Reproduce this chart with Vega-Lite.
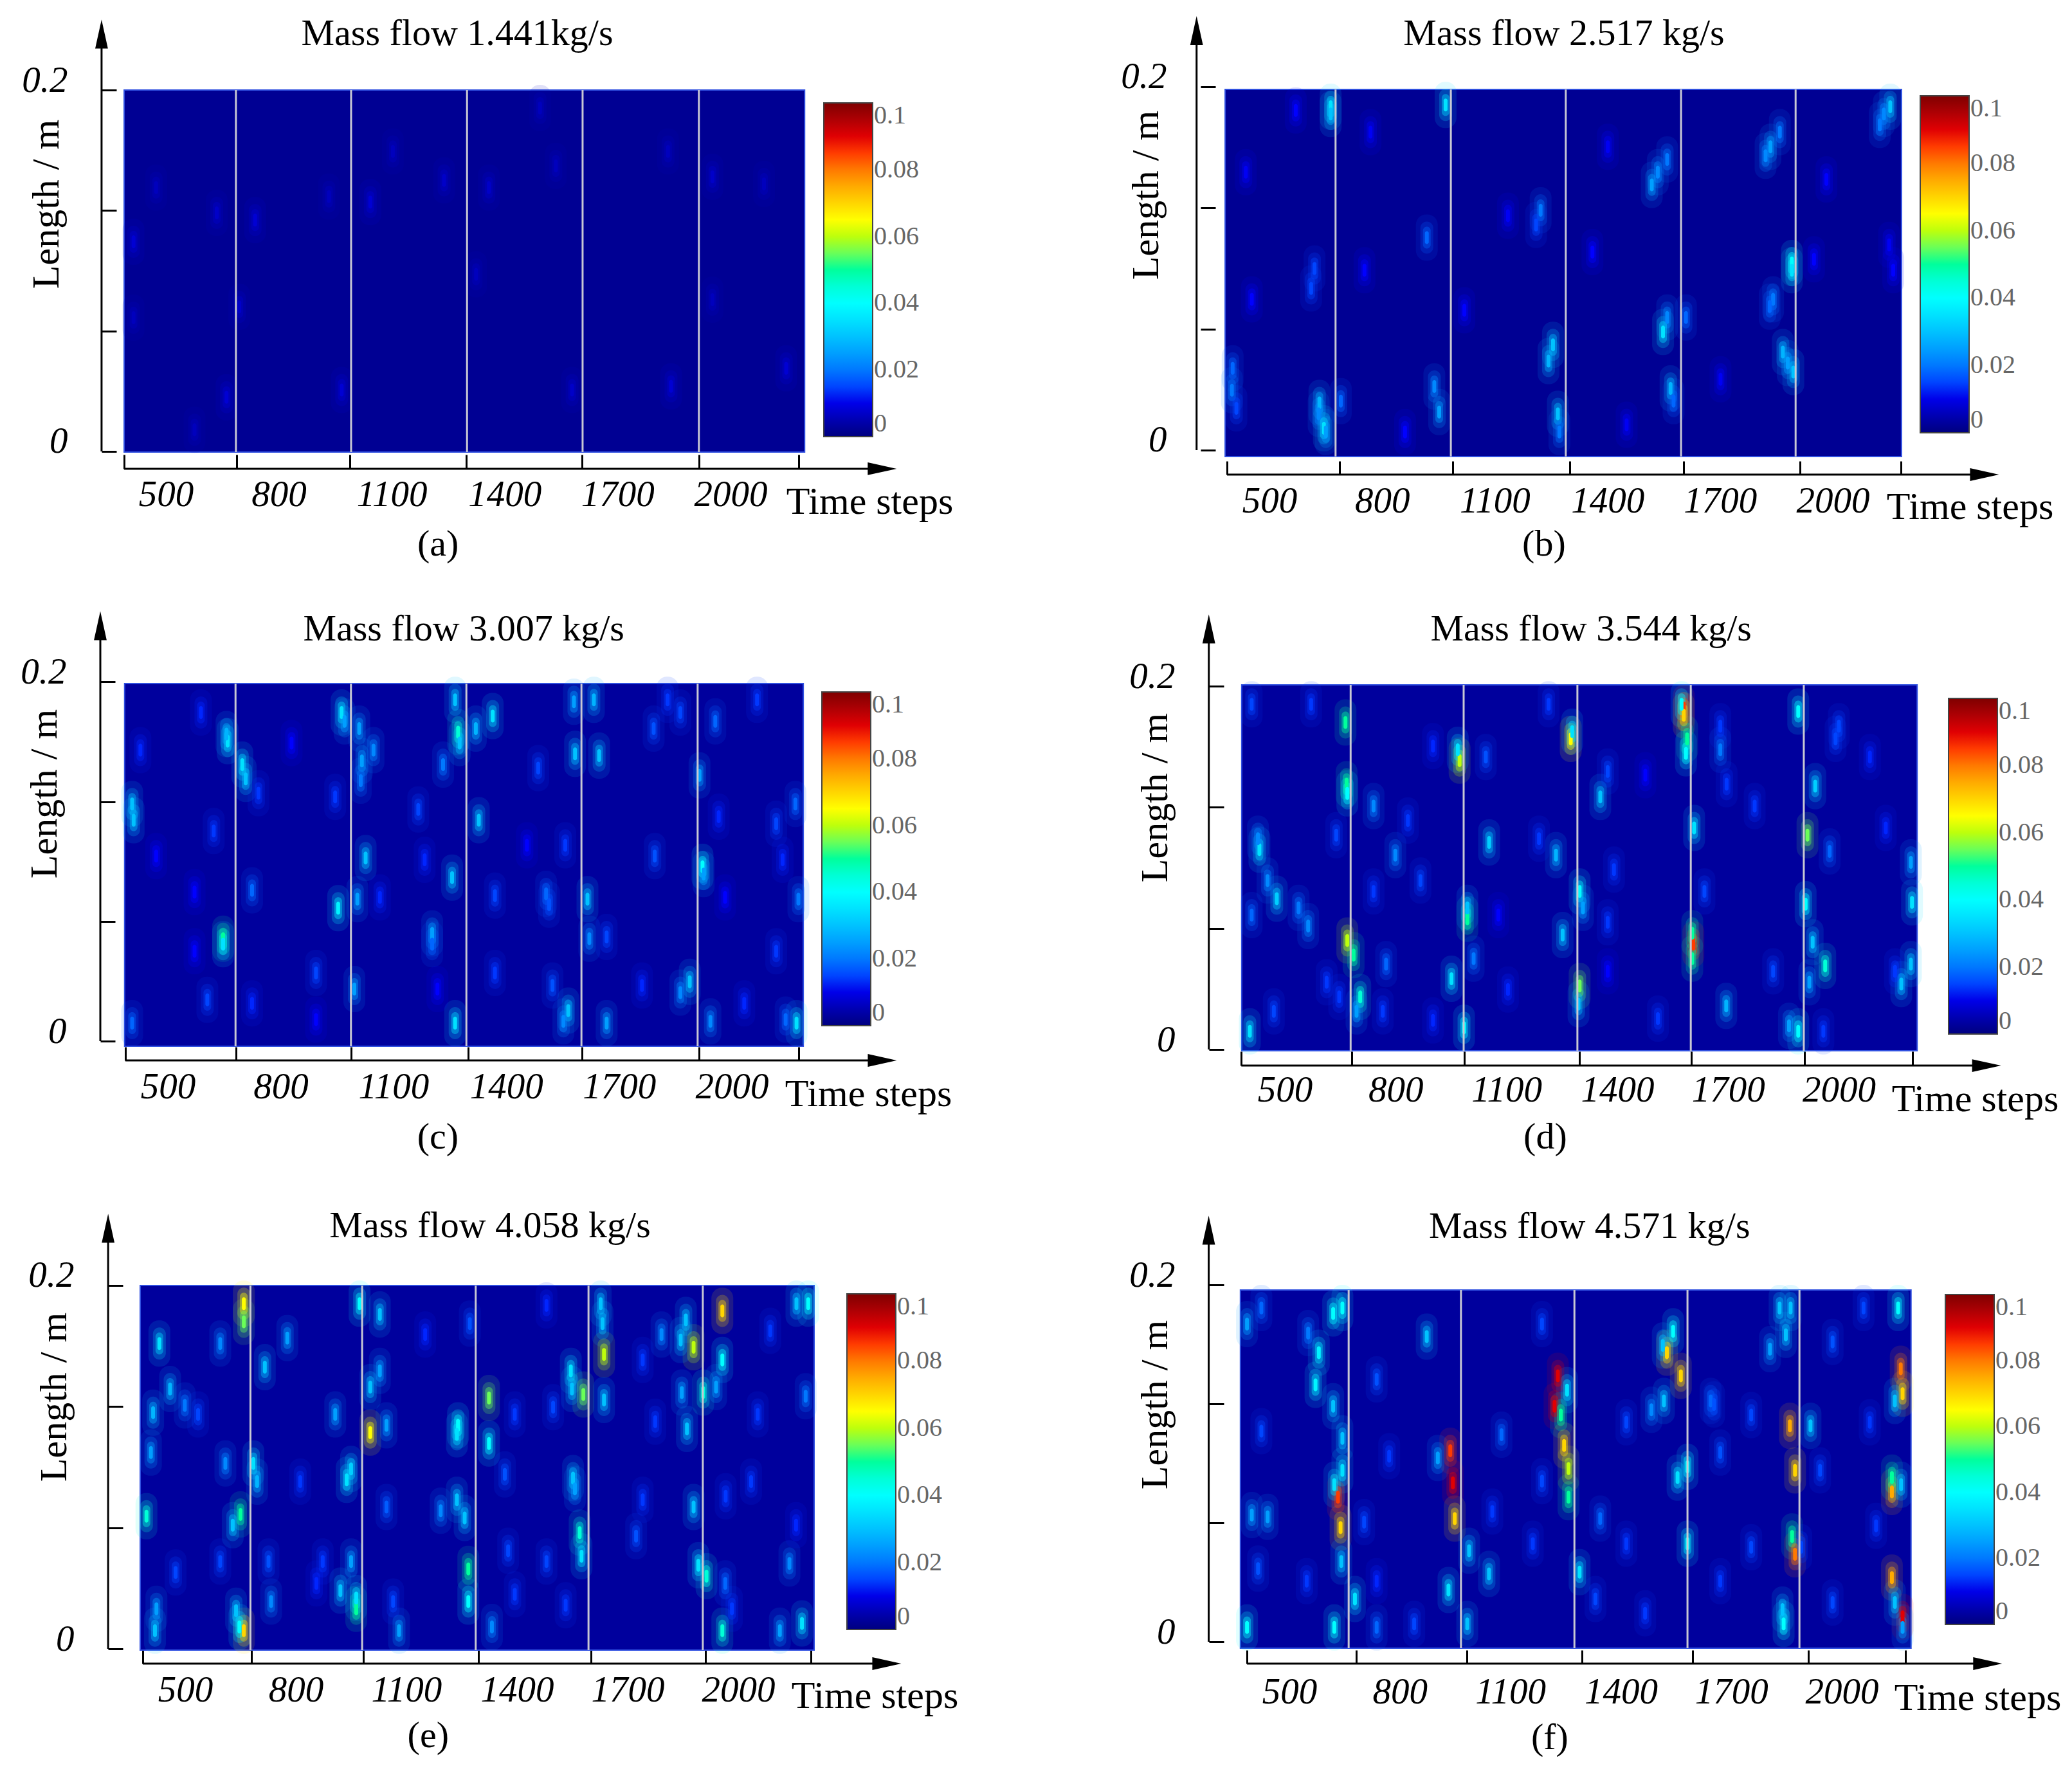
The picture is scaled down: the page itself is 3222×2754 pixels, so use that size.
{"$schema":"https://vega.github.io/schema/vega-lite/v6.json","background":"white","padding":{"left":31,"top":21,"right":0,"bottom":0},"bounds":"flush","spacing":933,"config":{"font":"Liberation Serif","view":{"stroke":null},"range":{"heatmap":["#00007f","#0000ff","#00ffff","#00ff80","#a0ff20","#ffff00","#ff0000","#7f0000"],"ramp":["#00007f","#0000ff","#00ffff","#00ff80","#a0ff20","#ffff00","#ff0000","#7f0000"]},"axis":{"labelFont":"Liberation Serif","titleFont":"Liberation Serif","labelFontStyle":"italic","titleFontWeight":"normal","labelFontSize":57,"titleFontSize":60,"domain":false,"grid":false,"tickColor":"#000","tickWidth":3,"labelColor":"#000","titleColor":"#000","labelOverlap":false,"labelFlush":false,"labelAngle":0},"legend":{"gradientThickness":76,"labelFont":"Liberation Serif","labelFontSize":40,"labelColor":"#666","gradientStrokeColor":"#444","gradientStrokeWidth":2,"labelOverlap":false,"labelBaseline":"middle","labelOffset":22}},
"datasets":{
"a":[{"t":414,"l":0.116,"v":0.008},{"t":737,"l":0.128,"v":0.008},{"t":1043,"l":0.138,"v":0.008},{"t":1239,"l":0.15,"v":0.007},{"t":1952,"l":0.152,"v":0.007},{"t":661,"l":0.03,"v":0.008},{"t":967,"l":0.034,"v":0.008},{"t":2148,"l":0.046,"v":0.008},{"t":1842,"l":0.036,"v":0.008},{"t":1579,"l":0.034,"v":0.007},{"t":474,"l":0.146,"v":0.006},{"t":1358,"l":0.146,"v":0.007},{"t":635,"l":0.132,"v":0.007},{"t":933,"l":0.141,"v":0.006},{"t":1494,"l":0.19,"v":0.006},{"t":1834,"l":0.166,"v":0.006},{"t":1536,"l":0.158,"v":0.006},{"t":2089,"l":0.148,"v":0.006},{"t":1103,"l":0.166,"v":0.006},{"t":695,"l":0.08,"v":0.007},{"t":1952,"l":0.084,"v":0.006},{"t":414,"l":0.074,"v":0.006},{"t":1324,"l":0.098,"v":0.006},{"t":576,"l":0.012,"v":0.006}],
"b":[{"t":663,"l":0.189,"v":0.035},{"t":663,"l":0.185,"v":0.03},{"t":969,"l":0.19,"v":0.035},{"t":2153,"l":0.189,"v":0.03},{"t":2136,"l":0.185,"v":0.022},{"t":2125,"l":0.179,"v":0.02},{"t":1859,"l":0.175,"v":0.02},{"t":1834,"l":0.167,"v":0.025},{"t":1821,"l":0.162,"v":0.022},{"t":1559,"l":0.16,"v":0.02},{"t":1534,"l":0.153,"v":0.022},{"t":1518,"l":0.146,"v":0.025},{"t":1222,"l":0.132,"v":0.02},{"t":1210,"l":0.124,"v":0.015},{"t":919,"l":0.117,"v":0.018},{"t":1891,"l":0.103,"v":0.04},{"t":1891,"l":0.099,"v":0.035},{"t":620,"l":0.1,"v":0.015},{"t":611,"l":0.089,"v":0.015},{"t":453,"l":0.083,"v":0.012},{"t":1841,"l":0.083,"v":0.02},{"t":1609,"l":0.073,"v":0.018},{"t":1559,"l":0.073,"v":0.022},{"t":1548,"l":0.065,"v":0.035},{"t":1832,"l":0.079,"v":0.018},{"t":1255,"l":0.058,"v":0.03},{"t":1243,"l":0.049,"v":0.028},{"t":1867,"l":0.054,"v":0.028},{"t":1880,"l":0.048,"v":0.025},{"t":1895,"l":0.043,"v":0.03},{"t":939,"l":0.035,"v":0.022},{"t":952,"l":0.021,"v":0.025},{"t":1568,"l":0.034,"v":0.028},{"t":1576,"l":0.027,"v":0.018},{"t":1268,"l":0.02,"v":0.03},{"t":1272,"l":0.01,"v":0.02},{"t":633,"l":0.026,"v":0.028},{"t":631,"l":0.02,"v":0.022},{"t":645,"l":0.012,"v":0.035},{"t":650,"l":0.01,"v":0.025},{"t":400,"l":0.033,"v":0.02},{"t":412,"l":0.023,"v":0.015},{"t":690,"l":0.027,"v":0.018},{"t":402,"l":0.045,"v":0.018},{"t":753,"l":0.099,"v":0.012},{"t":1360,"l":0.109,"v":0.012},{"t":2161,"l":0.099,"v":0.012},{"t":1950,"l":0.105,"v":0.012},{"t":570,"l":0.187,"v":0.012},{"t":769,"l":0.175,"v":0.011},{"t":1401,"l":0.167,"v":0.011},{"t":1135,"l":0.129,"v":0.011},{"t":1983,"l":0.149,"v":0.012},{"t":2150,"l":0.113,"v":0.011},{"t":437,"l":0.153,"v":0.011},{"t":1019,"l":0.077,"v":0.012},{"t":861,"l":0.01,"v":0.012},{"t":1451,"l":0.014,"v":0.011},{"t":1701,"l":0.039,"v":0.011}],
"c":[{"t":659,"l":0.167,"v":0.035},{"t":656,"l":0.171,"v":0.028},{"t":647,"l":0.057,"v":0.05},{"t":647,"l":0.054,"v":0.035},{"t":698,"l":0.154,"v":0.035},{"t":707,"l":0.146,"v":0.03},{"t":405,"l":0.132,"v":0.03},{"t":409,"l":0.123,"v":0.03},{"t":962,"l":0.183,"v":0.035},{"t":970,"l":0.178,"v":0.025},{"t":1009,"l":0.174,"v":0.025},{"t":1016,"l":0.156,"v":0.025},{"t":1013,"l":0.145,"v":0.02},{"t":1264,"l":0.19,"v":0.03},{"t":1272,"l":0.172,"v":0.045},{"t":1276,"l":0.166,"v":0.03},{"t":1319,"l":0.174,"v":0.028},{"t":1364,"l":0.181,"v":0.035},{"t":1327,"l":0.123,"v":0.03},{"t":1026,"l":0.102,"v":0.03},{"t":1256,"l":0.091,"v":0.03},{"t":953,"l":0.074,"v":0.038},{"t":1004,"l":0.079,"v":0.025},{"t":1203,"l":0.06,"v":0.025},{"t":1203,"l":0.054,"v":0.018},{"t":1506,"l":0.082,"v":0.018},{"t":1514,"l":0.076,"v":0.016},{"t":1370,"l":0.081,"v":0.015},{"t":1580,"l":0.189,"v":0.025},{"t":1583,"l":0.16,"v":0.03},{"t":1647,"l":0.159,"v":0.03},{"t":1633,"l":0.19,"v":0.028},{"t":1792,"l":0.174,"v":0.016},{"t":1485,"l":0.152,"v":0.015},{"t":1616,"l":0.079,"v":0.03},{"t":1621,"l":0.057,"v":0.022},{"t":1667,"l":0.058,"v":0.015},{"t":1922,"l":0.097,"v":0.04},{"t":1925,"l":0.093,"v":0.025},{"t":1888,"l":0.033,"v":0.03},{"t":1863,"l":0.027,"v":0.022},{"t":1565,"l":0.017,"v":0.03},{"t":1552,"l":0.011,"v":0.022},{"t":1264,"l":0.01,"v":0.035},{"t":2172,"l":0.01,"v":0.035},{"t":1667,"l":0.01,"v":0.025},{"t":1943,"l":0.011,"v":0.022},{"t":2143,"l":0.012,"v":0.018},{"t":996,"l":0.029,"v":0.025},{"t":894,"l":0.038,"v":0.015},{"t":605,"l":0.023,"v":0.015},{"t":1217,"l":0.029,"v":0.012},{"t":724,"l":0.084,"v":0.018},{"t":2177,"l":0.079,"v":0.02},{"t":1956,"l":0.178,"v":0.018},{"t":1914,"l":0.148,"v":0.025},{"t":2169,"l":0.132,"v":0.018},{"t":1232,"l":0.154,"v":0.02},{"t":1047,"l":0.162,"v":0.022},{"t":405,"l":0.01,"v":0.018},{"t":588,"l":0.183,"v":0.013},{"t":622,"l":0.117,"v":0.014},{"t":571,"l":0.083,"v":0.012},{"t":741,"l":0.138,"v":0.014},{"t":724,"l":0.021,"v":0.013},{"t":894,"l":0.012,"v":0.012},{"t":1166,"l":0.129,"v":0.015},{"t":1183,"l":0.101,"v":0.013},{"t":1370,"l":0.038,"v":0.014},{"t":1455,"l":0.109,"v":0.012},{"t":1557,"l":0.109,"v":0.014},{"t":1795,"l":0.103,"v":0.016},{"t":2118,"l":0.121,"v":0.015},{"t":2135,"l":0.101,"v":0.013},{"t":1965,"l":0.125,"v":0.013},{"t":2067,"l":0.19,"v":0.014},{"t":1982,"l":0.08,"v":0.012},{"t":1064,"l":0.08,"v":0.013},{"t":945,"l":0.136,"v":0.014},{"t":829,"l":0.166,"v":0.012},{"t":427,"l":0.162,"v":0.013},{"t":571,"l":0.05,"v":0.012},{"t":469,"l":0.103,"v":0.012},{"t":1761,"l":0.031,"v":0.013},{"t":2033,"l":0.021,"v":0.013},{"t":2118,"l":0.05,"v":0.014},{"t":1523,"l":0.031,"v":0.016},{"t":1829,"l":0.19,"v":0.014},{"t":1863,"l":0.183,"v":0.015}],
"d":[{"t":1580,"l":0.188,"v":0.085},{"t":1580,"l":0.184,"v":0.07},{"t":1574,"l":0.19,"v":0.04},{"t":1589,"l":0.171,"v":0.05},{"t":1586,"l":0.163,"v":0.04},{"t":1274,"l":0.171,"v":0.065},{"t":1278,"l":0.175,"v":0.035},{"t":664,"l":0.18,"v":0.05},{"t":667,"l":0.146,"v":0.05},{"t":669,"l":0.141,"v":0.04},{"t":973,"l":0.159,"v":0.06},{"t":968,"l":0.165,"v":0.035},{"t":431,"l":0.11,"v":0.035},{"t":427,"l":0.116,"v":0.022},{"t":478,"l":0.083,"v":0.032},{"t":453,"l":0.093,"v":0.022},{"t":537,"l":0.078,"v":0.02},{"t":563,"l":0.068,"v":0.022},{"t":669,"l":0.06,"v":0.06},{"t":686,"l":0.052,"v":0.05},{"t":704,"l":0.029,"v":0.045},{"t":694,"l":0.021,"v":0.025},{"t":405,"l":0.01,"v":0.035},{"t":1053,"l":0.114,"v":0.032},{"t":1234,"l":0.107,"v":0.028},{"t":1354,"l":0.139,"v":0.03},{"t":740,"l":0.134,"v":0.022},{"t":799,"l":0.107,"v":0.022},{"t":994,"l":0.072,"v":0.05},{"t":994,"l":0.078,"v":0.03},{"t":1252,"l":0.063,"v":0.03},{"t":951,"l":0.039,"v":0.035},{"t":774,"l":0.047,"v":0.018},{"t":1011,"l":0.05,"v":0.02},{"t":1298,"l":0.087,"v":0.04},{"t":1298,"l":0.035,"v":0.055},{"t":1295,"l":0.025,"v":0.03},{"t":1307,"l":0.078,"v":0.025},{"t":1606,"l":0.058,"v":0.085},{"t":1603,"l":0.064,"v":0.05},{"t":1603,"l":0.05,"v":0.05},{"t":1608,"l":0.122,"v":0.035},{"t":1695,"l":0.024,"v":0.028},{"t":1679,"l":0.165,"v":0.02},{"t":1915,"l":0.118,"v":0.055},{"t":1890,"l":0.186,"v":0.04},{"t":1910,"l":0.08,"v":0.04},{"t":1936,"l":0.145,"v":0.032},{"t":1963,"l":0.046,"v":0.045},{"t":1929,"l":0.059,"v":0.03},{"t":1920,"l":0.037,"v":0.025},{"t":2169,"l":0.036,"v":0.03},{"t":2198,"l":0.081,"v":0.035},{"t":2195,"l":0.047,"v":0.03},{"t":2195,"l":0.103,"v":0.025},{"t":1865,"l":0.013,"v":0.025},{"t":1890,"l":0.01,"v":0.04},{"t":985,"l":0.012,"v":0.04},{"t":1975,"l":0.109,"v":0.018},{"t":2000,"l":0.178,"v":0.015},{"t":867,"l":0.093,"v":0.015},{"t":1476,"l":0.151,"v":0.012},{"t":410,"l":0.19,"v":0.015},{"t":571,"l":0.19,"v":0.014},{"t":1044,"l":0.161,"v":0.016},{"t":901,"l":0.167,"v":0.013},{"t":1214,"l":0.19,"v":0.014},{"t":1374,"l":0.153,"v":0.015},{"t":1679,"l":0.178,"v":0.014},{"t":1991,"l":0.171,"v":0.015},{"t":2084,"l":0.161,"v":0.013},{"t":740,"l":0.087,"v":0.014},{"t":1078,"l":0.074,"v":0.012},{"t":1374,"l":0.07,"v":0.014},{"t":1636,"l":0.087,"v":0.015},{"t":1772,"l":0.134,"v":0.014},{"t":1696,"l":0.146,"v":0.014},{"t":2127,"l":0.122,"v":0.013},{"t":765,"l":0.021,"v":0.014},{"t":901,"l":0.016,"v":0.013},{"t":1510,"l":0.017,"v":0.014},{"t":1374,"l":0.043,"v":0.012},{"t":1104,"l":0.033,"v":0.013},{"t":1822,"l":0.043,"v":0.015},{"t":2152,"l":0.043,"v":0.014},{"t":1958,"l":0.01,"v":0.014},{"t":470,"l":0.021,"v":0.015},{"t":613,"l":0.037,"v":0.014},{"t":647,"l":0.029,"v":0.014},{"t":410,"l":0.074,"v":0.018},{"t":639,"l":0.118,"v":0.015},{"t":1391,"l":0.099,"v":0.014},{"t":833,"l":0.126,"v":0.014},{"t":1188,"l":0.116,"v":0.014}],
"e":[{"t":659,"l":0.19,"v":0.065},{"t":659,"l":0.18,"v":0.055},{"t":659,"l":0.01,"v":0.07},{"t":647,"l":0.012,"v":0.04},{"t":638,"l":0.021,"v":0.03},{"t":650,"l":0.074,"v":0.05},{"t":629,"l":0.068,"v":0.03},{"t":430,"l":0.168,"v":0.035},{"t":595,"l":0.168,"v":0.022},{"t":459,"l":0.143,"v":0.028},{"t":499,"l":0.134,"v":0.02},{"t":413,"l":0.13,"v":0.028},{"t":407,"l":0.108,"v":0.025},{"t":609,"l":0.102,"v":0.022},{"t":395,"l":0.073,"v":0.045},{"t":418,"l":0.01,"v":0.03},{"t":422,"l":0.022,"v":0.025},{"t":685,"l":0.102,"v":0.035},{"t":695,"l":0.092,"v":0.028},{"t":777,"l":0.171,"v":0.025},{"t":716,"l":0.155,"v":0.03},{"t":733,"l":0.026,"v":0.022},{"t":973,"l":0.19,"v":0.04},{"t":1028,"l":0.184,"v":0.03},{"t":1002,"l":0.119,"v":0.065},{"t":1002,"l":0.144,"v":0.03},{"t":1028,"l":0.153,"v":0.025},{"t":1046,"l":0.123,"v":0.025},{"t":938,"l":0.093,"v":0.035},{"t":950,"l":0.099,"v":0.032},{"t":907,"l":0.129,"v":0.025},{"t":950,"l":0.048,"v":0.025},{"t":964,"l":0.022,"v":0.05},{"t":964,"l":0.028,"v":0.035},{"t":921,"l":0.032,"v":0.03},{"t":1240,"l":0.123,"v":0.04},{"t":1237,"l":0.118,"v":0.035},{"t":1268,"l":0.044,"v":0.05},{"t":1268,"l":0.026,"v":0.04},{"t":1258,"l":0.072,"v":0.03},{"t":1237,"l":0.082,"v":0.03},{"t":1193,"l":0.076,"v":0.022},{"t":1324,"l":0.138,"v":0.055},{"t":1324,"l":0.113,"v":0.04},{"t":1332,"l":0.012,"v":0.022},{"t":1546,"l":0.153,"v":0.035},{"t":1549,"l":0.143,"v":0.03},{"t":1580,"l":0.14,"v":0.055},{"t":1552,"l":0.094,"v":0.03},{"t":1557,"l":0.088,"v":0.025},{"t":1570,"l":0.064,"v":0.045},{"t":1575,"l":0.051,"v":0.035},{"t":1636,"l":0.162,"v":0.06},{"t":1632,"l":0.179,"v":0.03},{"t":1627,"l":0.19,"v":0.03},{"t":1636,"l":0.137,"v":0.03},{"t":1879,"l":0.166,"v":0.06},{"t":1844,"l":0.17,"v":0.03},{"t":1858,"l":0.181,"v":0.03},{"t":1792,"l":0.173,"v":0.022},{"t":1861,"l":0.121,"v":0.03},{"t":1847,"l":0.141,"v":0.025},{"t":1879,"l":0.078,"v":0.03},{"t":1957,"l":0.186,"v":0.07},{"t":1957,"l":0.159,"v":0.04},{"t":1940,"l":0.144,"v":0.025},{"t":1905,"l":0.141,"v":0.045},{"t":1914,"l":0.04,"v":0.045},{"t":1957,"l":0.01,"v":0.045},{"t":1892,"l":0.046,"v":0.035},{"t":1965,"l":0.036,"v":0.018},{"t":2173,"l":0.014,"v":0.035},{"t":2190,"l":0.19,"v":0.04},{"t":2158,"l":0.19,"v":0.03},{"t":2183,"l":0.139,"v":0.02},{"t":2139,"l":0.047,"v":0.022},{"t":2113,"l":0.01,"v":0.025},{"t":1080,"l":0.01,"v":0.025},{"t":726,"l":0.048,"v":0.016},{"t":474,"l":0.042,"v":0.015},{"t":1376,"l":0.054,"v":0.015},{"t":1394,"l":0.03,"v":0.014},{"t":1723,"l":0.062,"v":0.016},{"t":1498,"l":0.133,"v":0.015},{"t":873,"l":0.048,"v":0.014},{"t":812,"l":0.092,"v":0.014},{"t":1046,"l":0.078,"v":0.017},{"t":1367,"l":0.096,"v":0.016},{"t":1480,"l":0.048,"v":0.015},{"t":1741,"l":0.082,"v":0.014},{"t":1966,"l":0.084,"v":0.014},{"t":2035,"l":0.092,"v":0.014},{"t":1775,"l":0.125,"v":0.014},{"t":2087,"l":0.175,"v":0.014},{"t":2053,"l":0.129,"v":0.014},{"t":1151,"l":0.173,"v":0.013},{"t":1394,"l":0.129,"v":0.014},{"t":1064,"l":0.026,"v":0.015},{"t":856,"l":0.036,"v":0.013},{"t":595,"l":0.048,"v":0.015},{"t":535,"l":0.129,"v":0.015},{"t":2157,"l":0.068,"v":0.013},{"t":1983,"l":0.022,"v":0.014},{"t":1532,"l":0.024,"v":0.014},{"t":1272,"l":0.179,"v":0.016},{"t":1480,"l":0.189,"v":0.013},{"t":1741,"l":0.159,"v":0.014}],
"f":[{"t":632,"l":0.081,"v":0.085},{"t":639,"l":0.064,"v":0.07},{"t":622,"l":0.088,"v":0.035},{"t":619,"l":0.184,"v":0.04},{"t":644,"l":0.187,"v":0.04},{"t":580,"l":0.162,"v":0.038},{"t":571,"l":0.144,"v":0.038},{"t":619,"l":0.132,"v":0.03},{"t":644,"l":0.114,"v":0.03},{"t":644,"l":0.096,"v":0.035},{"t":641,"l":0.045,"v":0.03},{"t":398,"l":0.071,"v":0.025},{"t":441,"l":0.07,"v":0.025},{"t":551,"l":0.173,"v":0.02},{"t":622,"l":0.008,"v":0.04},{"t":385,"l":0.008,"v":0.04},{"t":678,"l":0.024,"v":0.035},{"t":873,"l":0.171,"v":0.03},{"t":937,"l":0.107,"v":0.085},{"t":944,"l":0.089,"v":0.09},{"t":949,"l":0.069,"v":0.07},{"t":903,"l":0.103,"v":0.025},{"t":932,"l":0.029,"v":0.035},{"t":988,"l":0.051,"v":0.03},{"t":983,"l":0.01,"v":0.03},{"t":737,"l":0.008,"v":0.018},{"t":1042,"l":0.038,"v":0.03},{"t":1229,"l":0.149,"v":0.09},{"t":1220,"l":0.132,"v":0.09},{"t":1237,"l":0.127,"v":0.05},{"t":1254,"l":0.141,"v":0.035},{"t":1246,"l":0.11,"v":0.07},{"t":1258,"l":0.097,"v":0.06},{"t":1258,"l":0.081,"v":0.05},{"t":1288,"l":0.039,"v":0.035},{"t":1525,"l":0.162,"v":0.07},{"t":1542,"l":0.174,"v":0.04},{"t":1563,"l":0.149,"v":0.07},{"t":1514,"l":0.166,"v":0.03},{"t":1517,"l":0.135,"v":0.03},{"t":1483,"l":0.13,"v":0.022},{"t":1554,"l":0.092,"v":0.035},{"t":1581,"l":0.098,"v":0.04},{"t":1581,"l":0.055,"v":0.04},{"t":1344,"l":0.069,"v":0.018},{"t":1831,"l":0.187,"v":0.03},{"t":1861,"l":0.187,"v":0.03},{"t":1848,"l":0.172,"v":0.03},{"t":1805,"l":0.164,"v":0.025},{"t":1859,"l":0.121,"v":0.075},{"t":1873,"l":0.096,"v":0.07},{"t":1865,"l":0.059,"v":0.05},{"t":1873,"l":0.049,"v":0.08},{"t":1842,"l":0.01,"v":0.04},{"t":1839,"l":0.018,"v":0.03},{"t":1915,"l":0.121,"v":0.03},{"t":2160,"l":0.153,"v":0.08},{"t":2165,"l":0.139,"v":0.07},{"t":2144,"l":0.135,"v":0.03},{"t":2136,"l":0.084,"v":0.075},{"t":2136,"l":0.092,"v":0.05},{"t":2161,"l":0.088,"v":0.03},{"t":2136,"l":0.036,"v":0.075},{"t":2165,"l":0.014,"v":0.09},{"t":2144,"l":0.022,"v":0.03},{"t":2153,"l":0.187,"v":0.04},{"t":2165,"l":0.008,"v":0.025},{"t":424,"l":0.187,"v":0.018},{"t":385,"l":0.178,"v":0.025},{"t":1076,"l":0.116,"v":0.018},{"t":1644,"l":0.135,"v":0.018},{"t":424,"l":0.118,"v":0.015},{"t":547,"l":0.034,"v":0.014},{"t":415,"l":0.041,"v":0.016},{"t":737,"l":0.147,"v":0.016},{"t":771,"l":0.104,"v":0.014},{"t":703,"l":0.067,"v":0.015},{"t":839,"l":0.01,"v":0.015},{"t":1186,"l":0.178,"v":0.015},{"t":1051,"l":0.073,"v":0.014},{"t":1186,"l":0.09,"v":0.015},{"t":1670,"l":0.106,"v":0.016},{"t":1653,"l":0.133,"v":0.016},{"t":1415,"l":0.123,"v":0.015},{"t":1466,"l":0.016,"v":0.014},{"t":1754,"l":0.127,"v":0.015},{"t":1975,"l":0.168,"v":0.016},{"t":1941,"l":0.096,"v":0.015},{"t":1754,"l":0.053,"v":0.015},{"t":1415,"l":0.055,"v":0.014},{"t":1975,"l":0.022,"v":0.015},{"t":2076,"l":0.123,"v":0.014},{"t":1331,"l":0.024,"v":0.015},{"t":1670,"l":0.034,"v":0.014},{"t":1161,"l":0.055,"v":0.014},{"t":737,"l":0.034,"v":0.013},{"t":2059,"l":0.187,"v":0.015},{"t":1890,"l":0.053,"v":0.015},{"t":2093,"l":0.065,"v":0.014}]
},
"vconcat":[
{"hconcat":[
{"width":1250,"height":728,"encoding":{"x":{"field":"t","type":"quantitative","axis":null},"y":{"field":"l","type":"quantitative","axis":null}},"resolve":{"axis":{"x":"independent","y":"independent"}},"layer":[
{"data":{"values":[{"t":389,"t2":2197,"l":0.2,"l2":-0.0004,"v":0.002}]},"mark":{"type":"rect","stroke":"#3050e0","strokeWidth":2},"encoding":{"x":{"field":"t","type":"quantitative","scale":{"domain":[325.7,2461.4],"nice":false,"zero":false},"axis":{"values":[389,688,989,1298,1605,1916,2181],"labels":false,"tickSize":-22,"offset":-20,"title":"Time steps","titleX":1196,"titleY":51,"titleAlign":"center","titleBaseline":"middle"}},"x2":{"field":"t2"},"y":{"field":"l","type":"quantitative","scale":{"domain":[-0.01673,0.24235],"nice":false,"zero":false},"axis":{"orient":"left","values":[0,0.0667,0.1333,0.2],"tickSize":-23,"offset":-2,"labelExpr":"datum.value==0?'0':datum.value==0.2?'0.2':''","labelPadding":76,"labelOffset":-15,"title":"Length / m","titleX":-86,"titleY":296,"titleAngle":-90,"titleAlign":"center","titleBaseline":"middle"}},"y2":{"field":"l2"},"color":{"field":"v","type":"quantitative","scale":{"domain":[0,0.012,0.04,0.052,0.058,0.065,0.087,0.1]},"legend":{"orient":"none","legendX":1125,"legendY":139,"gradientLength":519,"values":[0,0.02,0.04,0.06,0.08,0.1],"title":null,"format":"~g"}}}},
{"data":{"name":"a"},"mark":{"type":"rect","width":34,"height":72,"cornerRadius":16,"opacity":0.12},"encoding":{"color":{"field":"v","type":"quantitative","legend":null}}},
{"data":{"name":"a"},"mark":{"type":"rect","width":20,"height":50,"cornerRadius":10,"opacity":0.22},"encoding":{"color":{"field":"v","type":"quantitative","legend":null}}},
{"data":{"name":"a"},"mark":{"type":"rect","width":12,"height":34,"cornerRadius":6,"opacity":0.4},"encoding":{"color":{"field":"v","type":"quantitative","legend":null}}},
{"data":{"name":"a"},"mark":{"type":"rect","width":6,"height":20,"cornerRadius":3},"encoding":{"color":{"field":"v","type":"quantitative","legend":null}}},
{"data":{"values":[{"t":686,"l":-0.0004,"l2":0.2},{"t":992,"l":-0.0004,"l2":0.2},{"t":1300,"l":-0.0004,"l2":0.2},{"t":1607,"l":-0.0004,"l2":0.2},{"t":1916,"l":-0.0004,"l2":0.2}]},"mark":{"type":"rule","color":"#c8c8d4","strokeWidth":3},"encoding":{"x":{"field":"t","type":"quantitative","axis":{"orient":"bottom","format":"d","values":[500,800,1100,1400,1700,2000],"ticks":false,"offset":-20,"labelPadding":40,"labelBaseline":"middle","title":null}},"y2":{"field":"l2"}}},
{"data":{"values":[{"t":329,"t2":329,"l":0,"l2":0.231},{"t":389,"t2":2403,"l":-0.0096,"l2":-0.0096}]},"mark":{"type":"rule","color":"#000","strokeWidth":3},"encoding":{"x2":{"field":"t2"},"y2":{"field":"l2"}}},
{"data":{"values":[{"t":329,"l":0.231}]},"mark":{"type":"point","shape":"M-0.44,1L0.44,1L0,-1Z","filled":true,"size":2025,"color":"#000","opacity":1}},
{"data":{"values":[{"t":2403,"l":-0.0096}]},"mark":{"type":"point","shape":"M-1,-0.44L-1,0.44L1,0Z","filled":true,"size":2025,"color":"#000","opacity":1}},
{"data":{"values":[{"t":1223,"l":-0.0516,"c":"(a)"},{"t":1274,"l":0.231,"c":"Mass flow 1.441kg/s"}]},"mark":{"type":"text","fontSize":58,"font":"Liberation Serif","color":"#000"},"encoding":{"text":{"field":"c"}}}
]},
{"width":1250,"height":728,"encoding":{"x":{"field":"t","type":"quantitative","axis":null},"y":{"field":"l","type":"quantitative","axis":null}},"resolve":{"axis":{"x":"independent","y":"independent"}},"layer":[
{"data":{"values":[{"t":382,"t2":2183,"l":0.1986,"l2":-0.00354,"v":0.002}]},"mark":{"type":"rect","stroke":"#3050e0","strokeWidth":2},"encoding":{"x":{"field":"t","type":"quantitative","scale":{"domain":[311.6,2452],"nice":false,"zero":false},"axis":{"values":[387,687,988,1300,1603,1913,2182],"labels":false,"tickSize":-21,"offset":-11,"title":"Time steps","titleX":1199,"titleY":50,"titleAlign":"center","titleBaseline":"middle"}},"x2":{"field":"t2"},"y":{"field":"l","type":"quantitative","scale":{"domain":[-0.01735,0.24035],"nice":false,"zero":false},"axis":{"orient":"left","values":[0,0.0667,0.1333,0.2],"tickSize":-23,"offset":-3,"labelExpr":"datum.value==0?'0':datum.value==0.2?'0.2':''","labelPadding":76,"labelOffset":-15,"title":"Length / m","titleX":-85,"titleY":282,"titleAngle":-90,"titleAlign":"center","titleBaseline":"middle"}},"y2":{"field":"l2"},"color":{"field":"v","type":"quantitative","scale":{"domain":[0,0.012,0.04,0.052,0.058,0.065,0.087,0.1]},"legend":{"orient":"none","legendX":1122,"legendY":128,"gradientLength":524,"values":[0,0.02,0.04,0.06,0.08,0.1],"title":null,"format":"~g"}}}},
{"data":{"name":"b"},"mark":{"type":"rect","width":34,"height":72,"cornerRadius":16,"opacity":0.12},"encoding":{"color":{"field":"v","type":"quantitative","legend":null}}},
{"data":{"name":"b"},"mark":{"type":"rect","width":20,"height":50,"cornerRadius":10,"opacity":0.22},"encoding":{"color":{"field":"v","type":"quantitative","legend":null}}},
{"data":{"name":"b"},"mark":{"type":"rect","width":12,"height":34,"cornerRadius":6,"opacity":0.4},"encoding":{"color":{"field":"v","type":"quantitative","legend":null}}},
{"data":{"name":"b"},"mark":{"type":"rect","width":6,"height":20,"cornerRadius":3},"encoding":{"color":{"field":"v","type":"quantitative","legend":null}}},
{"data":{"values":[{"t":676,"l":-0.00354,"l2":0.1986},{"t":983,"l":-0.00354,"l2":0.1986},{"t":1289,"l":-0.00354,"l2":0.1986},{"t":1596,"l":-0.00354,"l2":0.1986},{"t":1901,"l":-0.00354,"l2":0.1986}]},"mark":{"type":"rule","color":"#c8c8d4","strokeWidth":3},"encoding":{"x":{"field":"t","type":"quantitative","axis":{"orient":"bottom","format":"d","values":[500,800,1100,1400,1700,2000],"ticks":false,"offset":-11,"labelPadding":41,"labelBaseline":"middle","title":null}},"y2":{"field":"l2"}}},
{"data":{"values":[{"t":306,"t2":306,"l":0,"l2":0.231},{"t":387,"t2":2404,"l":-0.01345,"l2":-0.01345}]},"mark":{"type":"rule","color":"#000","strokeWidth":3},"encoding":{"x2":{"field":"t2"},"y2":{"field":"l2"}}},
{"data":{"values":[{"t":306,"l":0.231}]},"mark":{"type":"point","shape":"M-0.44,1L0.44,1L0,-1Z","filled":true,"size":2025,"color":"#000","opacity":1}},
{"data":{"values":[{"t":2404,"l":-0.01345}]},"mark":{"type":"point","shape":"M-1,-0.44L-1,0.44L1,0Z","filled":true,"size":2025,"color":"#000","opacity":1}},
{"data":{"values":[{"t":1231,"l":-0.052,"c":"(b)"},{"t":1284,"l":0.229,"c":"Mass flow 2.517 kg/s"}]},"mark":{"type":"text","fontSize":58,"font":"Liberation Serif","color":"#000"},"encoding":{"text":{"field":"c"}}}
]}
],"spacing":458,"bounds":"flush","resolve":{"scale":{"color":"independent"}}},
{"hconcat":[
{"width":1250,"height":734,"encoding":{"x":{"field":"t","type":"quantitative","axis":null},"y":{"field":"l","type":"quantitative","axis":null}},"resolve":{"axis":{"x":"independent","y":"independent"}},"layer":[
{"data":{"values":[{"t":385,"t2":2190,"l":0.1991,"l2":-0.00286,"v":0.003}]},"mark":{"type":"rect","stroke":"#3050e0","strokeWidth":2},"encoding":{"x":{"field":"t","type":"quantitative","scale":{"domain":[320.4,2458.3],"nice":false,"zero":false},"axis":{"values":[387,681,987,1299,1601,1913,2178],"labels":false,"tickSize":-21,"offset":-39,"title":"Time steps","titleX":1194,"titleY":52,"titleAlign":"center","titleBaseline":"middle"}},"x2":{"field":"t2"},"y":{"field":"l","type":"quantitative","scale":{"domain":[-0.0247,0.2381],"nice":false,"zero":false},"axis":{"orient":"left","values":[0,0.0667,0.1333,0.2],"tickSize":-23,"offset":0,"labelExpr":"datum.value==0?'0':datum.value==0.2?'0.2':''","labelPadding":76,"labelOffset":-15,"title":"Length / m","titleX":-87,"titleY":280,"titleAngle":-90,"titleAlign":"center","titleBaseline":"middle"}},"y2":{"field":"l2"},"color":{"field":"v","type":"quantitative","scale":{"domain":[0,0.012,0.04,0.052,0.058,0.065,0.087,0.1]},"legend":{"orient":"none","legendX":1122,"legendY":122,"gradientLength":519,"values":[0,0.02,0.04,0.06,0.08,0.1],"title":null,"format":"~g"}}}},
{"data":{"name":"c"},"mark":{"type":"rect","width":34,"height":72,"cornerRadius":16,"opacity":0.12},"encoding":{"color":{"field":"v","type":"quantitative","legend":null}}},
{"data":{"name":"c"},"mark":{"type":"rect","width":20,"height":50,"cornerRadius":10,"opacity":0.22},"encoding":{"color":{"field":"v","type":"quantitative","legend":null}}},
{"data":{"name":"c"},"mark":{"type":"rect","width":12,"height":34,"cornerRadius":6,"opacity":0.4},"encoding":{"color":{"field":"v","type":"quantitative","legend":null}}},
{"data":{"name":"c"},"mark":{"type":"rect","width":6,"height":20,"cornerRadius":3},"encoding":{"color":{"field":"v","type":"quantitative","legend":null}}},
{"data":{"values":[{"t":680,"l":-0.00286,"l2":0.1991},{"t":987,"l":-0.00286,"l2":0.1991},{"t":1294,"l":-0.00286,"l2":0.1991},{"t":1600,"l":-0.00286,"l2":0.1991},{"t":1909,"l":-0.00286,"l2":0.1991}]},"mark":{"type":"rule","color":"#c8c8d4","strokeWidth":3},"encoding":{"x":{"field":"t","type":"quantitative","axis":{"orient":"bottom","format":"d","values":[500,800,1100,1400,1700,2000],"ticks":false,"offset":-39,"labelPadding":41,"labelBaseline":"middle","title":null}},"y2":{"field":"l2"}}},
{"data":{"values":[{"t":320.4,"t2":320.4,"l":0,"l2":0.2313},{"t":387,"t2":2400,"l":-0.01074,"l2":-0.01074}]},"mark":{"type":"rule","color":"#000","strokeWidth":3},"encoding":{"x2":{"field":"t2"},"y2":{"field":"l2"}}},
{"data":{"values":[{"t":320.4,"l":0.2313}]},"mark":{"type":"point","shape":"M-0.44,1L0.44,1L0,-1Z","filled":true,"size":2025,"color":"#000","opacity":1}},
{"data":{"values":[{"t":2400,"l":-0.01074}]},"mark":{"type":"point","shape":"M-1,-0.44L-1,0.44L1,0Z","filled":true,"size":2025,"color":"#000","opacity":1}},
{"data":{"values":[{"t":1218,"l":-0.0537,"c":"(c)"},{"t":1287,"l":0.2291,"c":"Mass flow 3.007 kg/s"}]},"mark":{"type":"text","fontSize":58,"font":"Liberation Serif","color":"#000"},"encoding":{"text":{"field":"c"}}}
]},
{"width":1250,"height":734,"encoding":{"x":{"field":"t","type":"quantitative","axis":null},"y":{"field":"l","type":"quantitative","axis":null}},"resolve":{"axis":{"x":"independent","y":"independent"}},"layer":[
{"data":{"values":[{"t":383,"t2":2212,"l":0.2007,"l2":-0.0007,"v":0.003}]},"mark":{"type":"rect","stroke":"#3050e0","strokeWidth":2},"encoding":{"x":{"field":"t","type":"quantitative","scale":{"domain":[284,2460.6],"nice":false,"zero":false},"axis":{"values":[382,681,986,1297,1600,1907,2199],"labels":false,"tickSize":-22,"offset":-31,"title":"Time steps","titleX":1197,"titleY":52,"titleAlign":"center","titleBaseline":"middle"}},"x2":{"field":"t2"},"y":{"field":"l","type":"quantitative","scale":{"domain":[-0.0198,0.24],"nice":false,"zero":false},"axis":{"orient":"left","values":[0,0.0667,0.1333,0.2],"tickSize":-23,"offset":-6,"labelExpr":"datum.value==0?'0':datum.value==0.2?'0.2':''","labelPadding":76,"labelOffset":-15,"title":"Length / m","titleX":-84,"titleY":286,"titleAngle":-90,"titleAlign":"center","titleBaseline":"middle"}},"y2":{"field":"l2"},"color":{"field":"v","type":"quantitative","scale":{"domain":[0,0.012,0.04,0.052,0.058,0.065,0.087,0.1]},"legend":{"orient":"none","legendX":1156,"legendY":132,"gradientLength":522,"values":[0,0.02,0.04,0.06,0.08,0.1],"title":null,"format":"~g"}}}},
{"data":{"name":"d"},"mark":{"type":"rect","width":34,"height":72,"cornerRadius":16,"opacity":0.12},"encoding":{"color":{"field":"v","type":"quantitative","legend":null}}},
{"data":{"name":"d"},"mark":{"type":"rect","width":20,"height":50,"cornerRadius":10,"opacity":0.22},"encoding":{"color":{"field":"v","type":"quantitative","legend":null}}},
{"data":{"name":"d"},"mark":{"type":"rect","width":12,"height":34,"cornerRadius":6,"opacity":0.4},"encoding":{"color":{"field":"v","type":"quantitative","legend":null}}},
{"data":{"name":"d"},"mark":{"type":"rect","width":6,"height":20,"cornerRadius":3},"encoding":{"color":{"field":"v","type":"quantitative","legend":null}}},
{"data":{"values":[{"t":678,"l":-0.0007,"l2":0.2007},{"t":984,"l":-0.0007,"l2":0.2007},{"t":1292,"l":-0.0007,"l2":0.2007},{"t":1599,"l":-0.0007,"l2":0.2007},{"t":1905,"l":-0.0007,"l2":0.2007}]},"mark":{"type":"rule","color":"#c8c8d4","strokeWidth":3},"encoding":{"x":{"field":"t","type":"quantitative","axis":{"orient":"bottom","format":"d","values":[500,800,1100,1400,1700,2000],"ticks":false,"offset":-31,"labelPadding":38,"labelBaseline":"middle","title":null}},"y2":{"field":"l2"}}},
{"data":{"values":[{"t":294,"t2":294,"l":0,"l2":0.2315},{"t":382,"t2":2400,"l":-0.00885,"l2":-0.00885}]},"mark":{"type":"rule","color":"#000","strokeWidth":3},"encoding":{"x2":{"field":"t2"},"y2":{"field":"l2"}}},
{"data":{"values":[{"t":294,"l":0.2315}]},"mark":{"type":"point","shape":"M-0.44,1L0.44,1L0,-1Z","filled":true,"size":2025,"color":"#000","opacity":1}},
{"data":{"values":[{"t":2400,"l":-0.00885}]},"mark":{"type":"point","shape":"M-1,-0.44L-1,0.44L1,0Z","filled":true,"size":2025,"color":"#000","opacity":1}},
{"data":{"values":[{"t":1205,"l":-0.0485,"c":"(d)"},{"t":1329,"l":0.2312,"c":"Mass flow 3.544 kg/s"}]},"mark":{"type":"text","fontSize":58,"font":"Liberation Serif","color":"#000"},"encoding":{"text":{"field":"c"}}}
]}
],"spacing":468,"bounds":"flush","resolve":{"scale":{"color":"independent"}}},
{"hconcat":[
{"width":1250,"height":700,"encoding":{"x":{"field":"t","type":"quantitative","axis":null},"y":{"field":"l","type":"quantitative","axis":null}},"resolve":{"axis":{"x":"independent","y":"independent"}},"layer":[
{"data":{"values":[{"t":378,"t2":2206,"l":0.2,"l2":-0.0007,"v":0.003}]},"mark":{"type":"rect","stroke":"#3050e0","strokeWidth":2},"encoding":{"x":{"field":"t","type":"quantitative","scale":{"domain":[269.8,2450.2],"nice":false,"zero":false},"axis":{"values":[385,680,983,1295,1601,1911,2197],"labels":false,"tickSize":-21,"offset":0,"title":"Time steps","titleX":1204,"titleY":50,"titleAlign":"center","titleBaseline":"middle"}},"x2":{"field":"t2"},"y":{"field":"l","type":"quantitative","scale":{"domain":[-0.00814,0.2396],"nice":false,"zero":false},"axis":{"orient":"left","values":[0,0.0667,0.1333,0.2],"tickSize":-23,"offset":-12,"labelExpr":"datum.value==0?'0':datum.value==0.2?'0.2':''","labelPadding":76,"labelOffset":-15,"title":"Length / m","titleX":-84,"titleY":285,"titleAngle":-90,"titleAlign":"center","titleBaseline":"middle"}},"y2":{"field":"l2"},"color":{"field":"v","type":"quantitative","scale":{"domain":[0,0.012,0.04,0.052,0.058,0.065,0.087,0.1]},"legend":{"orient":"none","legendX":1161,"legendY":125,"gradientLength":522,"values":[0,0.02,0.04,0.06,0.08,0.1],"title":null,"format":"~g"}}}},
{"data":{"name":"e"},"mark":{"type":"rect","width":34,"height":72,"cornerRadius":16,"opacity":0.12},"encoding":{"color":{"field":"v","type":"quantitative","legend":null}}},
{"data":{"name":"e"},"mark":{"type":"rect","width":20,"height":50,"cornerRadius":10,"opacity":0.22},"encoding":{"color":{"field":"v","type":"quantitative","legend":null}}},
{"data":{"name":"e"},"mark":{"type":"rect","width":12,"height":34,"cornerRadius":6,"opacity":0.4},"encoding":{"color":{"field":"v","type":"quantitative","legend":null}}},
{"data":{"name":"e"},"mark":{"type":"rect","width":6,"height":20,"cornerRadius":3},"encoding":{"color":{"field":"v","type":"quantitative","legend":null}}},
{"data":{"values":[{"t":677,"l":-0.0007,"l2":0.2},{"t":980,"l":-0.0007,"l2":0.2},{"t":1288,"l":-0.0007,"l2":0.2},{"t":1594,"l":-0.0007,"l2":0.2},{"t":1904,"l":-0.0007,"l2":0.2}]},"mark":{"type":"rule","color":"#c8c8d4","strokeWidth":3},"encoding":{"x":{"field":"t","type":"quantitative","axis":{"orient":"bottom","format":"d","values":[500,800,1100,1400,1700,2000],"ticks":false,"offset":0,"labelPadding":41,"labelBaseline":"middle","title":null}},"y2":{"field":"l2"}}},
{"data":{"values":[{"t":291,"t2":291,"l":0,"l2":0.2315},{"t":385,"t2":2403,"l":-0.00814,"l2":-0.00814}]},"mark":{"type":"rule","color":"#000","strokeWidth":3},"encoding":{"x2":{"field":"t2"},"y2":{"field":"l2"}}},
{"data":{"values":[{"t":291,"l":0.2315}]},"mark":{"type":"point","shape":"M-0.44,1L0.44,1L0,-1Z","filled":true,"size":2025,"color":"#000","opacity":1}},
{"data":{"values":[{"t":2403,"l":-0.00814}]},"mark":{"type":"point","shape":"M-1,-0.44L-1,0.44L1,0Z","filled":true,"size":2025,"color":"#000","opacity":1}},
{"data":{"values":[{"t":1159,"l":-0.0481,"c":"(e)"},{"t":1327,"l":0.2326,"c":"Mass flow 4.058 kg/s"}]},"mark":{"type":"text","fontSize":58,"font":"Liberation Serif","color":"#000"},"encoding":{"text":{"field":"c"}}}
]},
{"width":1250,"height":700,"encoding":{"x":{"field":"t","type":"quantitative","axis":null},"y":{"field":"l","type":"quantitative","axis":null}},"resolve":{"axis":{"x":"independent","y":"independent"}},"layer":[
{"data":{"values":[{"t":367,"t2":2188,"l":0.1971,"l2":-0.0036,"v":0.003}]},"mark":{"type":"rect","stroke":"#3050e0","strokeWidth":2},"encoding":{"x":{"field":"t","type":"quantitative","scale":{"domain":[271.3,2453.9],"nice":false,"zero":false},"axis":{"values":[385,682,982,1294,1595,1909,2173],"labels":false,"tickSize":-21,"offset":0,"title":"Time steps","titleX":1201,"titleY":53,"titleAlign":"center","titleBaseline":"middle"}},"x2":{"field":"t2"},"y":{"field":"l","type":"quantitative","scale":{"domain":[-0.01224,0.24],"nice":false,"zero":false},"axis":{"orient":"left","values":[0,0.0667,0.1333,0.2],"tickSize":-23,"offset":-6,"labelExpr":"datum.value==0?'0':datum.value==0.2?'0.2':''","labelPadding":76,"labelOffset":-15,"title":"Length / m","titleX":-84,"titleY":297,"titleAngle":-90,"titleAlign":"center","titleBaseline":"middle"}},"y2":{"field":"l2"},"color":{"field":"v","type":"quantitative","scale":{"domain":[0,0.012,0.04,0.052,0.058,0.065,0.087,0.1]},"legend":{"orient":"none","legendX":1151,"legendY":126,"gradientLength":513,"values":[0,0.02,0.04,0.06,0.08,0.1],"title":null,"format":"~g"}}}},
{"data":{"name":"f"},"mark":{"type":"rect","width":34,"height":72,"cornerRadius":16,"opacity":0.12},"encoding":{"color":{"field":"v","type":"quantitative","legend":null}}},
{"data":{"name":"f"},"mark":{"type":"rect","width":20,"height":50,"cornerRadius":10,"opacity":0.22},"encoding":{"color":{"field":"v","type":"quantitative","legend":null}}},
{"data":{"name":"f"},"mark":{"type":"rect","width":12,"height":34,"cornerRadius":6,"opacity":0.4},"encoding":{"color":{"field":"v","type":"quantitative","legend":null}}},
{"data":{"name":"f"},"mark":{"type":"rect","width":6,"height":20,"cornerRadius":3},"encoding":{"color":{"field":"v","type":"quantitative","legend":null}}},
{"data":{"values":[{"t":661,"l":-0.0036,"l2":0.1971},{"t":966,"l":-0.0036,"l2":0.1971},{"t":1274,"l":-0.0036,"l2":0.1971},{"t":1581,"l":-0.0036,"l2":0.1971},{"t":1885,"l":-0.0036,"l2":0.1971}]},"mark":{"type":"rule","color":"#c8c8d4","strokeWidth":3},"encoding":{"x":{"field":"t","type":"quantitative","axis":{"orient":"bottom","format":"d","values":[500,800,1100,1400,1700,2000],"ticks":false,"offset":0,"labelPadding":44,"labelBaseline":"middle","title":null}},"y2":{"field":"l2"}}},
{"data":{"values":[{"t":281,"t2":281,"l":0,"l2":0.2306},{"t":385,"t2":2396,"l":-0.01224,"l2":-0.01224}]},"mark":{"type":"rule","color":"#000","strokeWidth":3},"encoding":{"x2":{"field":"t2"},"y2":{"field":"l2"}}},
{"data":{"values":[{"t":281,"l":0.2306}]},"mark":{"type":"point","shape":"M-0.44,1L0.44,1L0,-1Z","filled":true,"size":2025,"color":"#000","opacity":1}},
{"data":{"values":[{"t":2396,"l":-0.01224}]},"mark":{"type":"point","shape":"M-1,-0.44L-1,0.44L1,0Z","filled":true,"size":2025,"color":"#000","opacity":1}},
{"data":{"values":[{"t":1207,"l":-0.054,"c":"(f)"},{"t":1315,"l":0.2326,"c":"Mass flow 4.571 kg/s"}]},"mark":{"type":"text","fontSize":58,"font":"Liberation Serif","color":"#000"},"encoding":{"text":{"field":"c"}}}
]}
],"spacing":468,"bounds":"flush","resolve":{"scale":{"color":"independent"}}}
],
"resolve":{"scale":{"color":"independent"}}}
